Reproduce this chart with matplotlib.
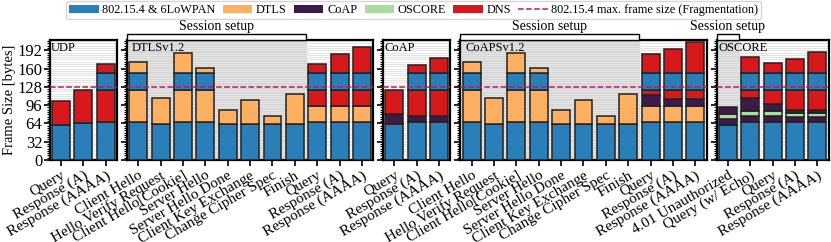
import matplotlib
matplotlib.use("Agg")
import matplotlib.pyplot as plt
from matplotlib.patches import Patch, Rectangle
from matplotlib.lines import Line2D
from matplotlib.ticker import MultipleLocator

plt.rcParams['font.family'] = ['Liberation Serif', 'DejaVu Serif']
plt.rcParams['font.size'] = 9

# layer keys: L = 802.15.4 & 6LoWPAN, D = DTLS, C = CoAP, O = OSCORE, N = DNS
handshake_labels = ["Client Hello", "Hello Verify Request", "Client Hello[Cookie]",
                    "Server Hello", "Server Hello Done", "Client Key Exchange",
                    "Change Cipher Spec", "Finish"]
handshake_segments = [
    [("L", 66), ("D", 57), ("L", 30), ("D", 18)],
    [("L", 63), ("D", 45)],
    [("L", 66), ("D", 57), ("L", 30), ("D", 34)],
    [("L", 66), ("D", 57), ("L", 30), ("D", 8)],
    [("L", 63), ("D", 24)],
    [("L", 63), ("D", 42)],
    [("L", 63), ("D", 14)],
    [("L", 63), ("D", 53)],
]
dns_labels = ["Query", "Response (A)", "Response (AAAA)"]

udp_segments = [
    [("L", 61), ("N", 43)],
    [("L", 64), ("N", 58)],
    [("L", 66), ("N", 57), ("L", 30), ("N", 15)],
]
dtls_segments = handshake_segments + [
    [("L", 66), ("D", 29), ("N", 28), ("L", 30), ("N", 15)],
    [("L", 66), ("D", 29), ("N", 28), ("L", 30), ("N", 32)],
    [("L", 66), ("D", 29), ("N", 28), ("L", 30), ("N", 44)],
]
coap_segments = [
    [("L", 63), ("C", 17), ("N", 42)],
    [("L", 66), ("C", 11), ("N", 46), ("L", 30), ("N", 13)],
    [("L", 66), ("C", 11), ("N", 46), ("L", 30), ("N", 25)],
]
coaps_segments = handshake_segments + [
    [("L", 66), ("D", 29), ("C", 18), ("N", 10), ("L", 30), ("N", 33)],
    [("L", 66), ("D", 29), ("C", 11), ("N", 17), ("L", 30), ("N", 41)],
    [("L", 66), ("D", 29), ("C", 11), ("N", 17), ("L", 30), ("N", 53)],
]
oscore_labels = ["4.01 Unauthorized", "Query (w/ Echo)"] + dns_labels
oscore_segments = [
    [("L", 61), ("C", 11), ("O", 8), ("C", 12)],
    [("L", 66), ("C", 11), ("O", 8), ("C", 23), ("N", 15), ("L", 30), ("N", 28)],
    [("L", 66), ("C", 11), ("O", 8), ("C", 13), ("N", 25), ("L", 30), ("N", 17)],
    [("L", 66), ("C", 9), ("O", 8), ("C", 5), ("N", 35), ("L", 30), ("N", 24)],
    [("L", 66), ("C", 9), ("O", 8), ("C", 5), ("N", 35), ("L", 30), ("N", 36)],
]

panels = [
    ("UDP", dns_labels, udp_segments, None),
    ("DTLSv1.2", handshake_labels + dns_labels, dtls_segments, 8),
    ("CoAP", dns_labels, coap_segments, None),
    ("CoAPSv1.2", handshake_labels + dns_labels, coaps_segments, 8),
    ("OSCORE", oscore_labels, oscore_segments, 1),
]

colors = {"L": "#2b7fb8", "D": "#fdb062", "C": "#3d1a4a", "O": "#a8dca0", "N": "#d7191c"}
names = {"L": "802.15.4 & 6LoWPAN", "D": "DTLS", "C": "CoAP", "O": "OSCORE", "N": "DNS"}
max_frame = 127

fig = plt.figure(figsize=(8.31, 2.42), dpi=100)
gs = fig.add_gridspec(1, 5, width_ratios=[len(p[1]) for p in panels],
                      left=0.060, right=0.997, bottom=0.339, top=0.835, wspace=0.068)

for k, (title, labels, segments, setup_n) in enumerate(panels):
    ax = fig.add_subplot(gs[0, k])
    n = len(labels)
    ax.set_xlim(-0.5, n - 0.5)
    ax.set_ylim(0, 210)
    if setup_n:
        ax.axvspan(-0.5, setup_n - 0.5, color="#d6d6d6", zorder=0)
        x0 = -0.5
        w = setup_n
        ax.add_patch(Rectangle((x0, 1.0), w, 0.05, transform=ax.get_xaxis_transform(),
                               facecolor="white", edgecolor="black", lw=1.0,
                               clip_on=False, zorder=5))
        ax.text(x0 + w / 2, 1.055, "Session setup", transform=ax.get_xaxis_transform(),
                ha="center", va="bottom", fontsize=10)
    for i, segs in enumerate(segments):
        bottom = 0
        for layer, h in segs:
            ax.bar(i, h, bottom=bottom, width=0.8, color=colors[layer],
                   edgecolor="#222222", linewidth=1.1, zorder=3)
            bottom += h
    ax.axhline(max_frame, color="#c2185b", ls="--", lw=1.1, zorder=4)
    ax.yaxis.set_major_locator(MultipleLocator(32))
    ax.yaxis.set_minor_locator(MultipleLocator(4))
    ax.grid(axis="y", which="both", color="#e4e4e4", lw=0.8, zorder=1)
    ax.set_axisbelow(True)
    ax.tick_params(axis="y", which="major", length=4.5, width=1.2, direction="out")
    ax.tick_params(axis="y", which="minor", length=2.5, width=0.8, direction="out")
    ax.tick_params(axis="x", length=4.5, width=1.2, pad=2)
    if k > 0:
        ax.set_yticklabels([])
    else:
        ax.set_ylabel("Frame Size [bytes]", labelpad=1, fontsize=10.5)
        ax.tick_params(axis="y", labelsize=12, pad=1)
    ax.set_xticks(range(n))
    ax.set_xticklabels(labels, rotation=30, ha="right", rotation_mode="anchor", fontsize=11)
    for s in ax.spines.values():
        s.set_linewidth(1.6)
    ax.text(0.02, 0.98, title, transform=ax.transAxes, ha="left", va="top",
            fontsize=9, zorder=6)

handles = [Patch(facecolor=colors[key], edgecolor="none", label=names[key]) for key in "LDCON"]
handles.append(Line2D([], [], color="#c2185b", ls="--", lw=1.1,
                      label="802.15.4 max. frame size (Fragmentation)"))
fig.legend(handles=handles, loc="upper center", bbox_to_anchor=(0.498, 1.0), ncol=6,
           fontsize=8.8, frameon=True, fancybox=True, edgecolor="#cccccc",
           handlelength=2.4, handletextpad=0.3, columnspacing=0.6,
           borderpad=0.25, borderaxespad=0.1)

fig.savefig("out.png", dpi=100)
